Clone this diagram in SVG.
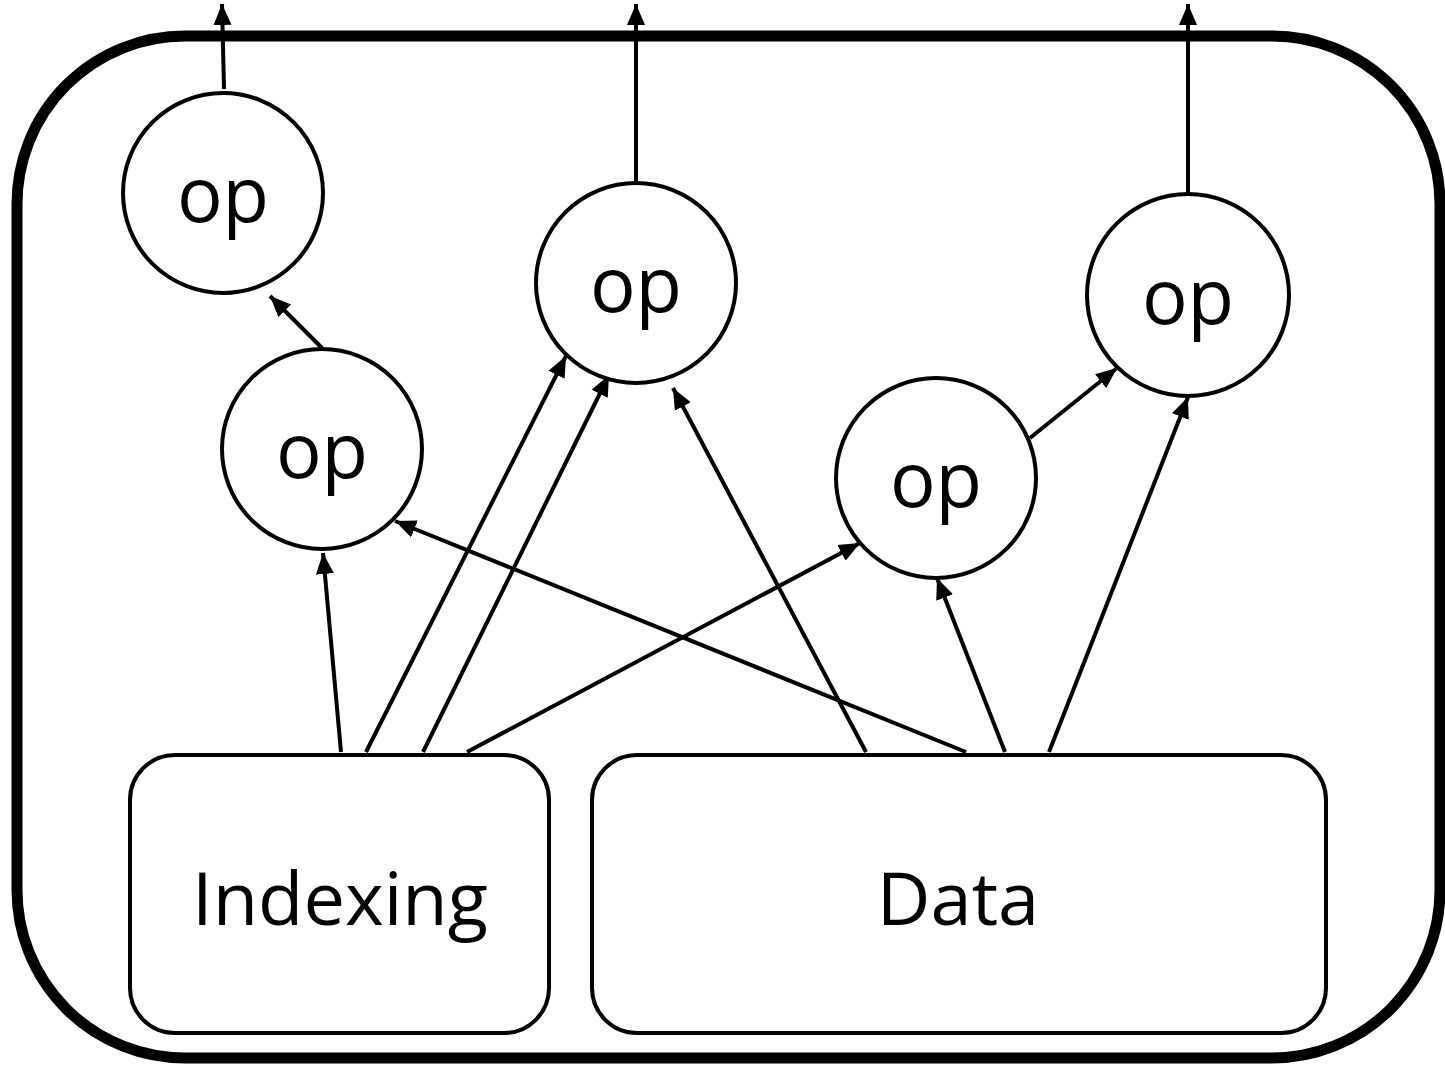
<svg xmlns="http://www.w3.org/2000/svg" width="1445" height="1068" viewBox="0 0 1445 1068">
<style>
.frame{fill:none;stroke:#000;stroke-width:11}
.op{fill:#fff;stroke:#000;stroke-width:4}
.box{fill:#fff;stroke:#000;stroke-width:4}
.lbl{font-family:"Open Sans","Liberation Sans",sans-serif;fill:#000;text-anchor:middle}
.edge{stroke:#000;stroke-width:4;fill:none;marker-end:url(#ah)}
</style>
<defs>
<marker id="ah" markerUnits="userSpaceOnUse" markerWidth="24" markerHeight="24" viewBox="0 0 24 24" refX="21" refY="12" orient="auto">
<path d="M0,3 L21,12 L0,21 Z" fill="#000"/>
</marker>
</defs>
<rect width="1445" height="1068" fill="#fff"/>
<g id="container"><rect class="frame" x="17" y="36" width="1423" height="1022" rx="168" ry="168"/></g>
<g id="connectors">
<line class="edge" x1="224" y1="89" x2="222" y2="4"/>
<line class="edge" x1="636" y1="183" x2="636" y2="4"/>
<line class="edge" x1="1188" y1="194" x2="1188" y2="4"/>
<line class="edge" x1="322" y1="348" x2="270" y2="296"/>
<line class="edge" x1="341" y1="752" x2="323" y2="553"/>
<line class="edge" x1="366" y1="752" x2="566" y2="356"/>
<line class="edge" x1="423" y1="752" x2="609" y2="375"/>
<line class="edge" x1="467" y1="752" x2="860" y2="543"/>
<line class="edge" x1="966" y1="752" x2="395" y2="521"/>
<line class="edge" x1="866" y1="752" x2="673" y2="388"/>
<line class="edge" x1="1005" y1="752" x2="937" y2="578"/>
<line class="edge" x1="1049" y1="752" x2="1188" y2="397"/>
<line class="edge" x1="1030" y1="438" x2="1117" y2="368"/>
</g>
<g id="op1"><circle class="op" cx="223" cy="193" r="100"/><text class="lbl" x="223" y="222" font-size="76">op</text></g>
<g id="op2"><circle class="op" cx="636" cy="283" r="100"/><text class="lbl" x="636" y="312" font-size="76">op</text></g>
<g id="op3"><circle class="op" cx="1188" cy="295" r="101"/><text class="lbl" x="1188" y="324" font-size="76">op</text></g>
<g id="op4"><circle class="op" cx="322" cy="449" r="100"/><text class="lbl" x="322" y="478" font-size="76">op</text></g>
<g id="op5"><circle class="op" cx="936" cy="478" r="100"/><text class="lbl" x="936" y="507" font-size="76">op</text></g>
<g id="indexing"><rect class="box" x="130" y="755" width="419" height="278" rx="45" ry="45"/><text class="lbl" x="340" y="925" font-size="74">Indexing</text></g>
<g id="data"><rect class="box" x="592" y="755" width="734" height="278" rx="45" ry="45"/><text class="lbl" x="958" y="925" font-size="74">Data</text></g>
</svg>
